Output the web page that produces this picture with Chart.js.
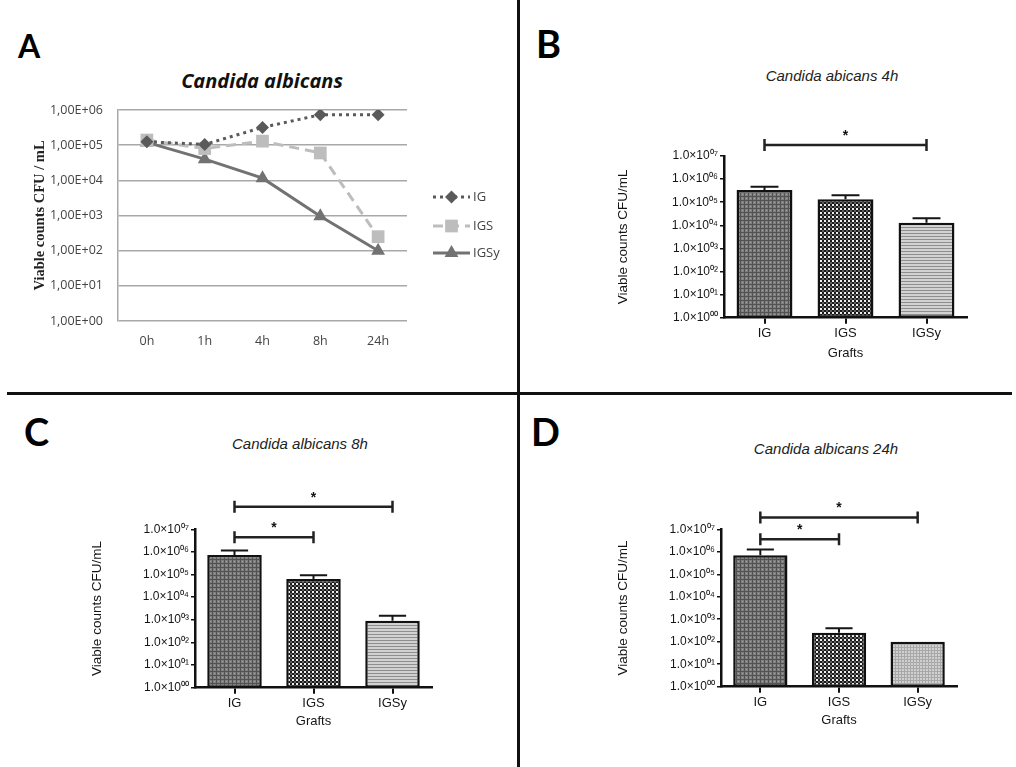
<!DOCTYPE html>
<html lang="en">
<head>
<meta charset="UTF-8">
<title>Candida albicans viable counts</title>
<script src="https://cdn.jsdelivr.net/npm/chart.js"></script>
<style>
  body { margin: 0; background: #fff; width: 1016px; height: 767px; position: relative; overflow: hidden;
         font-family: "Liberation Sans", Arial, sans-serif; }
  canvas { position: absolute; }
  .letter { position: absolute; font-family: Lato, "Open Sans", sans-serif; font-weight: 700; line-height: 1; color: #000; }
  .title { position: absolute; white-space: nowrap; line-height: 1; transform: translateX(-50%); }
  .line-title { font-family: "Open Sans", sans-serif; font-weight: 700; font-style: italic; font-size: 20px; color: #111; }
  .bar-title { font-family: "Liberation Sans", Arial, sans-serif; font-style: italic; font-size: 15px; color: #222; }
  #vline { position: absolute; left: 517px; top: 0; width: 3px; height: 767px; background: #111; }
  #hline { position: absolute; left: 7px; top: 392px; width: 1005px; height: 3px; background: #111; }
</style>
</head>
<body>
  <div id="vline"></div>
  <div id="hline"></div>

  <div class="letter" style="left:18px; top:30px; font-size:32px;">A</div>
  <div class="letter" style="left:536px; top:24px; font-size:38px;">B</div>
  <div class="letter" style="left:24px; top:412px; font-size:38px;">C</div>
  <div class="letter" style="left:531px; top:412px; font-size:38px;">D</div>

  <div class="title line-title" style="left:262px; top:71px;">Candida albicans</div>
  <div class="title bar-title" style="left:832px; top:68px;">Candida abicans 4h</div>
  <div class="title bar-title" style="left:300px; top:436px;">Candida albicans 8h</div>
  <div class="title bar-title" style="left:826px; top:441px;">Candida albicans 24h</div>

  <canvas id="chartA" width="516" height="390" style="left:0; top:0;"></canvas>
  <canvas id="chartB" width="496" height="390" style="left:520px; top:0;"></canvas>
  <canvas id="chartC" width="516" height="372" style="left:0; top:395px;"></canvas>
  <canvas id="chartD" width="496" height="372" style="left:520px; top:395px;"></canvas>

<script>
// ---- data (CFU/mL) ----
const timePoints = ['0h', '1h', '4h', '8h', '24h'];
const igCounts   = [1.25e5, 1.05e5, 3.2e5, 7.3e5, 7.3e5];
const igsCounts  = [1.4e5, 8.0e4, 1.3e5, 6.0e4, 2.5e2];
const igsyCounts = [1.2e5, 4.0e4, 1.15e4, 9.5e2, 1.0e2];

const lineTicks = [1, 1e1, 1e2, 1e3, 1e4, 1e5, 1e6];
const lineTickLabels = ['1,00E+00', '1,00E+01', '1,00E+02', '1,00E+03', '1,00E+04', '1,00E+05', '1,00E+06'];

const grafts = ['IG', 'IGS', 'IGSy'];
const counts4h  = [3.4e5, 1.35e5, 1.3e4];
const upper4h   = [4.7e5, 2.0e5, 2.0e4];
const counts8h  = [7.4e5, 6.3e4, 9.0e2];
const upper8h   = [1.15e6, 9.4e4, 1.5e3];
const counts24h = [7.0e5, 2.5e2, 1.0e2];
const upper24h  = [1.27e6, 4.0e2, null];

// significant pairs (category indices)
const sig4h  = [[0, 2]];
const sig8h  = [[0, 1], [0, 2]];
const sig24h = [[0, 1], [0, 2]];

const barTicks = [1, 1e1, 1e2, 1e3, 1e4, 1e5, 1e6, 1e7];
const barTickLabels = ['1.0×10⁰⁰', '1.0×10⁰¹', '1.0×10⁰²', '1.0×10⁰³', '1.0×10⁰⁴', '1.0×10⁰⁵', '1.0×10⁰⁶', '1.0×10⁰⁷'];

// ---- fill patterns for bars ----
function makePattern(w, h, draw) {
  const c = document.createElement('canvas');
  c.width = w; c.height = h;
  const g = c.getContext('2d');
  draw(g);
  return g.createPattern(c, 'repeat');
}
const meshDark = makePattern(4, 4, g => {
  g.fillStyle = '#808080'; g.fillRect(0, 0, 4, 4);
  g.fillStyle = '#525252'; g.fillRect(0, 0, 4, 1); g.fillRect(0, 0, 1, 4);
  g.fillStyle = '#a0a0a0'; g.fillRect(2, 2, 1, 1);
});
const checker = makePattern(4, 4, g => {
  g.fillStyle = '#1a1a1a'; g.fillRect(0, 0, 4, 4);
  g.fillStyle = '#eeeeee'; g.fillRect(0, 0, 2, 2);
  g.fillStyle = '#5e5e5e'; g.fillRect(2, 2, 2, 2);
});
const stripes = makePattern(1, 3, g => {
  g.fillStyle = '#d2d2d2'; g.fillRect(0, 0, 1, 3);
  g.fillStyle = '#8e8e8e'; g.fillRect(0, 2, 1, 1);
});
const meshLight = makePattern(3, 3, g => {
  g.fillStyle = '#d0d0d0'; g.fillRect(0, 0, 3, 3);
  g.fillStyle = '#a8a8a8'; g.fillRect(0, 0, 3, 1); g.fillRect(0, 0, 1, 3);
});

// ---- plugins ----
const seriesLegend = {
  id: 'seriesLegend',
  afterDraw(chart, args, opts) {
    const ctx = chart.ctx;
    chart.data.datasets.forEach((ds, i) => {
      const y = opts.rows[i], x0 = opts.x, x1 = opts.x + opts.len, xm = (x0 + x1) / 2;
      ctx.save();
      ctx.strokeStyle = ds.borderColor;
      ctx.lineWidth = ds.borderWidth;
      ctx.setLineDash(ds.borderDash || []);
      ctx.beginPath(); ctx.moveTo(x0, y); ctx.lineTo(x1, y); ctx.stroke();
      ctx.setLineDash([]);
      ctx.fillStyle = ds.backgroundColor;
      const r = ds.pointRadius;
      ctx.beginPath();
      if (ds.pointStyle === 'rectRot') {
        ctx.moveTo(xm, y - r); ctx.lineTo(xm + r, y); ctx.lineTo(xm, y + r); ctx.lineTo(xm - r, y);
      } else if (ds.pointStyle === 'rect') {
        const s = r * Math.SQRT1_2; ctx.rect(xm - s, y - s, 2 * s, 2 * s);
      } else {
        const h = r * 1.5, hw = r * Math.sqrt(3) / 2;
        ctx.moveTo(xm, y - r); ctx.lineTo(xm + hw, y - r + h); ctx.lineTo(xm - hw, y - r + h);
      }
      ctx.closePath(); ctx.fill();
      ctx.fillStyle = '#444';
      ctx.font = '13px "Open Sans", sans-serif';
      ctx.textBaseline = 'middle';
      ctx.fillText(ds.label, x1 + 3, y);
      ctx.restore();
    });
  }
};

const errorBars = {
  id: 'errorBars',
  afterDatasetsDraw(chart, args, opts) {
    const ctx = chart.ctx, y = chart.scales.y;
    const meta = chart.getDatasetMeta(0);
    const values = chart.data.datasets[0].data;
    ctx.save();
    ctx.strokeStyle = '#151515';
    ctx.lineWidth = 2;
    opts.upper.forEach((u, i) => {
      if (u == null) return;
      const bar = meta.data[i];
      const yTop = y.getPixelForValue(values[i]);
      const yU = y.getPixelForValue(u);
      const half = bar.width * 0.25;
      ctx.beginPath();
      ctx.moveTo(bar.x, yTop); ctx.lineTo(bar.x, yU);
      ctx.moveTo(bar.x - half, yU); ctx.lineTo(bar.x + half, yU);
      ctx.stroke();
    });
    ctx.restore();
  }
};

const sigBrackets = {
  id: 'sigBrackets',
  afterDraw(chart, args, opts) {
    const ctx = chart.ctx, x = chart.scales.x, y = chart.scales.y;
    ctx.save();
    ctx.strokeStyle = '#222';
    ctx.fillStyle = '#111';
    ctx.lineWidth = 2.5;
    ctx.font = 'bold 14px "Liberation Sans", Arial, sans-serif';
    ctx.textAlign = 'center';
    ctx.textBaseline = 'middle';
    opts.pairs.forEach((p, i) => {
      const xa = x.getPixelForValue(p[0]), xb = x.getPixelForValue(p[1]);
      const yy = y.getPixelForValue(opts.levels[i]);
      ctx.beginPath();
      ctx.moveTo(xa, yy); ctx.lineTo(xb, yy);
      ctx.moveTo(xa, yy - 6); ctx.lineTo(xa, yy + 6);
      ctx.moveTo(xb, yy - 6); ctx.lineTo(xb, yy + 6);
      ctx.stroke();
      ctx.fillText('*', (xa + xb) / 2, yy - 9);
    });
    ctx.restore();
  }
};

// ---- panel A: line chart ----
new Chart(document.getElementById('chartA'), {
  type: 'line',
  data: {
    labels: timePoints,
    datasets: [
      { label: 'IG', data: igCounts, borderColor: '#5a5a5a', backgroundColor: '#5a5a5a',
        borderWidth: 3, borderDash: [3, 4], pointStyle: 'rectRot', pointRadius: 6.5,
        pointBorderWidth: 0, tension: 0 },
      { label: 'IGS', data: igsCounts, borderColor: '#bdbdbd', backgroundColor: '#bdbdbd',
        borderWidth: 3, borderDash: [10, 6], pointStyle: 'rect', pointRadius: 9,
        pointBorderWidth: 0, tension: 0 },
      { label: 'IGSy', data: igsyCounts, borderColor: '#727272', backgroundColor: '#727272',
        borderWidth: 3, pointStyle: 'triangle', pointRadius: 8,
        pointBorderWidth: 0, tension: 0 }
    ]
  },
  options: {
    responsive: false,
    animation: false,
    layout: { padding: { left: 32, top: 110, right: 109, bottom: 29 } },
    plugins: {
      legend: { display: false },
      tooltip: { enabled: false },
      seriesLegend: { x: 433, len: 37, rows: [197, 226, 253] }
    },
    scales: {
      x: {
        offset: true,
        grid: { display: false },
        border: { display: false },
        ticks: { font: { family: '"Open Sans", sans-serif', size: 12.5 }, color: '#444', padding: 5 },
        afterFit(s) { s.height = 40; }
      },
      y: {
        type: 'logarithmic',
        min: 1, max: 1e6,
        grid: { color: '#a8a8a8', lineWidth: 1.5, drawTicks: false },
        border: { color: '#a8a8a8', width: 1.5 },
        ticks: {
          autoSkip: false,
          padding: 15,
          color: '#444',
          font: { family: '"Open Sans", sans-serif', size: 12.5 },
          callback: (v, i) => lineTickLabels[i]
        },
        afterBuildTicks(s) { s.ticks = lineTicks.map(v => ({ value: v })); },
        title: {
          display: true, text: 'Viable counts CFU / mL', color: '#222', padding: 0,
          font: { family: '"Liberation Serif", "DejaVu Serif", serif', size: 14.5, weight: 'bold' }
        },
        afterFit(s) { s.width = 86; }
      }
    }
  },
  plugins: [seriesLegend]
});

// ---- panels B, C, D: bar charts ----
function barPanel(id, origin, size, box, values, upper, fills, pairs, levels) {
  const titleLH = 13.5 * 1.2;
  const padLeft = box.titleX - origin.x - titleLH / 2;
  const yWidth = box.left - origin.x - padLeft;
  const xHeight = box.graftsY - box.bottom + 13 * 1.2 / 2;
  const padBottom = size.h - (box.bottom - origin.y) - xHeight;
  new Chart(document.getElementById(id), {
    type: 'bar',
    data: {
      labels: grafts,
      datasets: [{
        data: values,
        backgroundColor: fills,
        borderColor: '#111',
        borderWidth: 2.5,
        borderSkipped: false,
        categoryPercentage: 1,
        barPercentage: 0.69
      }]
    },
    options: {
      responsive: false,
      animation: false,
      layout: { padding: {
        left: padLeft, top: box.top - origin.y,
        right: size.w - (box.right - origin.x), bottom: padBottom
      } },
      plugins: {
        legend: { display: false },
        tooltip: { enabled: false },
        errorBars: { upper: upper },
        sigBrackets: { pairs: pairs, levels: levels }
      },
      scales: {
        x: {
          offset: true,
          grid: { drawOnChartArea: false, drawTicks: true, tickLength: 6, color: '#111', lineWidth: 2, offset: false },
          border: { color: '#111', width: 2.5 },
          ticks: { font: { size: 13 }, color: '#151515', padding: 1.5 },
          title: { display: true, text: 'Grafts', font: { size: 13 }, color: '#151515', padding: 0 },
          afterFit(s) { s.height = xHeight; }
        },
        y: {
          type: 'logarithmic',
          min: 1, max: 1e7,
          grid: { drawOnChartArea: false, tickLength: 4, color: '#111', lineWidth: 1.5 },
          border: { color: '#111', width: 2.5 },
          ticks: {
            autoSkip: false, padding: 2, color: '#151515',
            font: { size: 12 },
            callback: (v, i) => barTickLabels[i]
          },
          afterBuildTicks(s) { s.ticks = barTicks.map(v => ({ value: v })); },
          title: { display: true, text: 'Viable counts CFU/mL', font: { size: 13.5 }, color: '#151515', padding: 0 },
          afterFit(s) { s.width = yWidth; }
        }
      }
    },
    plugins: [errorBars, sigBrackets]
  });
}

barPanel('chartB', { x: 520, y: 0 }, { w: 496, h: 390 },
  { left: 724, right: 967, top: 156, bottom: 317.7, titleX: 623, graftsY: 353 },
  counts4h, upper4h, [meshDark, checker, stripes], sig4h, [Math.pow(10, 7.48)]);

barPanel('chartC', { x: 0, y: 395 }, { w: 516, h: 372 },
  { left: 195, right: 432, top: 529.3, bottom: 687.7, titleX: 97, graftsY: 721 },
  counts8h, upper8h, [meshDark, checker, stripes], sig8h, [Math.pow(10, 6.65), Math.pow(10, 8.0)]);

barPanel('chartD', { x: 520, y: 395 }, { w: 496, h: 372 },
  { left: 721, right: 957, top: 529.3, bottom: 686.7, titleX: 623, graftsY: 720 },
  counts24h, upper24h, [meshDark, checker, meshLight], sig24h, [Math.pow(10, 6.56), Math.pow(10, 7.53)]);
</script>
</body>
</html>
